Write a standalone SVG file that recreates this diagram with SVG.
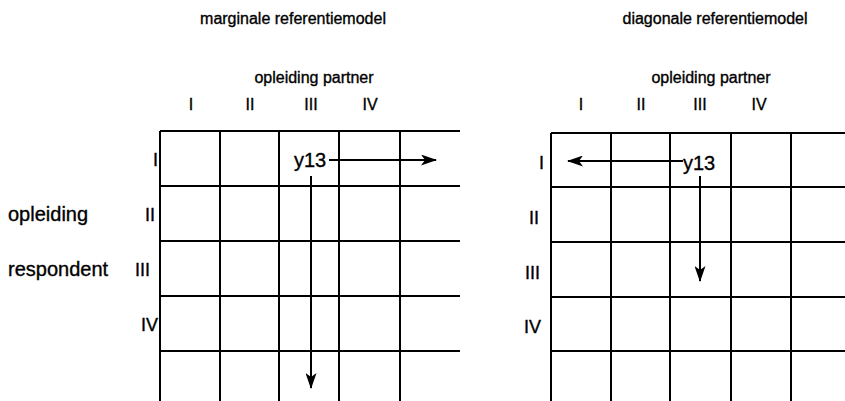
<svg xmlns="http://www.w3.org/2000/svg" width="845" height="401" viewBox="0 0 845 401">
<style>
text{font-family:"Liberation Sans",Arial,sans-serif;font-size:16px;fill:#000;stroke:#000;stroke-width:0.35}
.m{text-anchor:middle}
.e{text-anchor:end}
.w{font-size:20px}
.n{font-size:18px}
.g{stroke:#000;stroke-width:2;fill:none}
.a{stroke:#000;stroke-width:2;fill:none}
</style>
<defs>
<marker id="ah" markerWidth="16" markerHeight="11" refX="15" refY="5.5" orient="auto" markerUnits="userSpaceOnUse">
<path d="M0,0 L16,5.5 L0,11 L4,5.5 Z" fill="#000"/>
</marker>
</defs>
<rect width="845" height="401" fill="#fff"/>
<g id="left-model">
<text class="m" x="293" y="24">marginale referentiemodel</text>
<text class="m" x="314" y="83">opleiding partner</text>
<text class="m" x="191" y="110">I</text>
<text class="m" x="250" y="110">II</text>
<text class="m" x="311" y="110">III</text>
<text class="m" x="370" y="110">IV</text>
<text class="e n" x="158" y="166">I</text>
<text class="w" x="8" y="221">opleiding</text>
<text class="e n" x="155" y="221">II</text>
<text class="w" x="8" y="276">respondent</text>
<text class="e n" x="150" y="276">III</text>
<text class="e n" x="158" y="331">IV</text>
<path class="g" d="M160,131H460M160,186H460M160,241H460M160,296H460M160,351H460M160,131V401M220,131V401M279,131V401M339,131V401M400,131V401"/>
<text class="w" x="294" y="167">y13</text>
</g>
<g id="right-model">
<text class="m" x="715" y="24">diagonale referentiemodel</text>
<text class="m" x="711" y="83">opleiding partner</text>
<text class="m" x="581" y="110">I</text>
<text class="m" x="641" y="110">II</text>
<text class="m" x="700" y="110">III</text>
<text class="m" x="759" y="110">IV</text>
<text class="e n" x="544" y="169">I</text>
<text class="e n" x="539" y="224">II</text>
<text class="e n" x="540" y="279">III</text>
<text class="e n" x="541" y="333">IV</text>
<path class="g" d="M551,133H845M551,187H845M551,242H845M551,297H845M551,351H845M551,133V401M611,133V401M670,133V401M731,133V401M791,133V401"/>
<text class="w" x="683" y="170">y13</text>
</g>
<g id="connectors">
<line class="a" x1="329" y1="160" x2="436" y2="160" marker-end="url(#ah)"/>
<line class="a" x1="311" y1="176" x2="311" y2="388" marker-end="url(#ah)"/>
<line class="a" x1="683" y1="161" x2="568" y2="161" marker-end="url(#ah)"/>
<line class="a" x1="700" y1="176" x2="700" y2="281" marker-end="url(#ah)"/>
</g>
</svg>
